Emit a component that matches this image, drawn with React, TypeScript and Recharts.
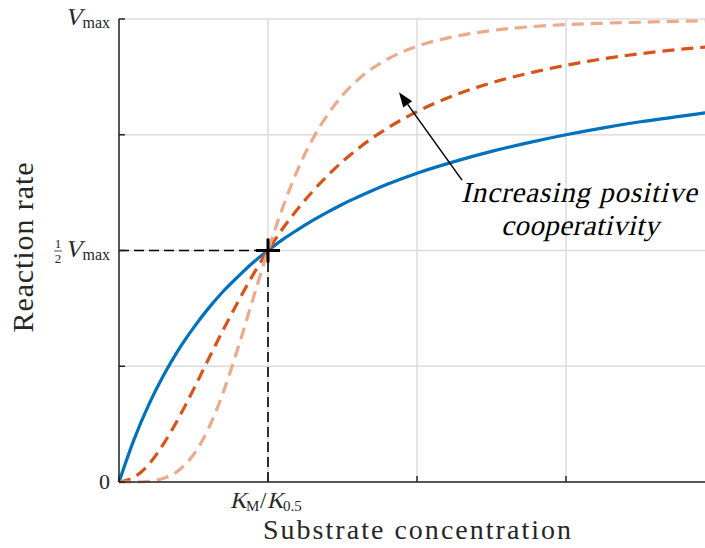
import { LineChart, Line, XAxis, YAxis, CartesianGrid, ReferenceLine, ReferenceDot, Label } from "recharts";

const FONT = "'Liberation Serif', 'Times New Roman', serif";
const INK = "#262626";

// substrate concentration, in units of K_M / K_0.5
const substrate = [0, 0.1, 0.2, 0.3, 0.4, 0.5, 0.6, 0.7, 0.8, 0.9, 1.0, 1.1, 1.2, 1.3, 1.4, 1.5, 1.6, 1.8, 2.0, 2.25, 2.5, 2.75, 3.0, 3.25, 3.5, 3.75, 4.0];
// reaction rate / Vmax
const noCoop = [0, 0.091, 0.167, 0.231, 0.286, 0.333, 0.375, 0.412, 0.444, 0.474, 0.5, 0.524, 0.545, 0.565, 0.583, 0.6, 0.615, 0.643, 0.667, 0.692, 0.714, 0.733, 0.75, 0.765, 0.778, 0.789, 0.8];
const someCoop = [0, 0.01, 0.038, 0.083, 0.138, 0.2, 0.265, 0.329, 0.39, 0.448, 0.5, 0.548, 0.59, 0.628, 0.662, 0.692, 0.719, 0.764, 0.8, 0.835, 0.862, 0.883, 0.9, 0.914, 0.925, 0.934, 0.941];
const strongCoop = [0, 0.0001, 0.0016, 0.008, 0.025, 0.059, 0.115, 0.194, 0.291, 0.396, 0.5, 0.594, 0.675, 0.741, 0.793, 0.835, 0.868, 0.913, 0.941, 0.962, 0.975, 0.983, 0.988, 0.991, 0.993, 0.995, 0.996];

const xTicks = [0, 1, 2, 3, 4];
const yTicks = [0, 0.25, 0.5, 0.75, 1];

const data = substrate.map((s, i) => ({
  s,
  n1: noCoop[i],
  n2: someCoop[i],
  n4: strongCoop[i],
}));

// slanted serif text (the italic face is not available, so skew the upright one)
const Slanted = ({ x, y, size, anchor = "start", children, ...rest }: any) => (
  <g transform={`translate(${x} ${y}) skewX(-13)`}>
    <text x={0} y={0} textAnchor={anchor} fontFamily={FONT} fontSize={size} fill={INK} {...rest}>
      {children}
    </text>
  </g>
);

const VmaxText = ({ x, y }: { x: number; y: number }) => (
  <g>
    <text x={x} y={y + 3} textAnchor="end" fontFamily={FONT} fontSize={16} fill={INK}>max</text>
    <Slanted x={x - 28} y={y} size={24} anchor="end">V</Slanted>
  </g>
);

const LeftTick = (props: any) => {
  const { x, y, payload } = props;
  const v = payload.value;
  return (
    <g>
      <line x1={x} y1={y} x2={x + 6} y2={y} stroke={INK} strokeWidth={1.5} />
      {v === 0 && (
        <text x={x - 9} y={y + 7} textAnchor="end" fontFamily={FONT} fontSize={22} fill={INK}>0</text>
      )}
      {v === 1 && <VmaxText x={x - 9} y={y + 6} />}
      {v === 0.5 && (
        <g>
          <VmaxText x={x - 9} y={y + 6} />
          <text x={x - 61} y={y - 3} textAnchor="middle" fontFamily={FONT} fontSize={13} fill={INK}>1</text>
          <line x1={x - 65} y1={y + 0.5} x2={x - 57} y2={y + 0.5} stroke={INK} strokeWidth={0.8} />
          <text x={x - 61} y={y + 12} textAnchor="middle" fontFamily={FONT} fontSize={13} fill={INK}>2</text>
        </g>
      )}
    </g>
  );
};

const BottomTick = (props: any) => {
  const { x, y, payload } = props;
  const base = y + 26;
  const left = x - 38;
  return (
    <g>
      <line x1={x} y1={y} x2={x} y2={y - 6} stroke={INK} strokeWidth={1.5} />
      {payload.value === 1 && (
        <g>
          <Slanted x={left} y={base} size={23}>K</Slanted>
          <text x={left + 16} y={base + 3} fontFamily={FONT} fontSize={15} fill={INK}>M</text>
          <text x={left + 30} y={base} fontFamily={FONT} fontSize={23} fill={INK}>/</text>
          <Slanted x={left + 37} y={base} size={23}>K</Slanted>
          <text x={left + 53} y={base + 3} fontFamily={FONT} fontSize={15} fill={INK}>0.5</text>
        </g>
      )}
    </g>
  );
};

const TopTick = (props: any) => {
  const { x, y } = props;
  return <line x1={x} y1={y} x2={x} y2={y + 6} stroke={INK} strokeWidth={1.5} />;
};

const Plus = (props: any) => {
  const { cx, cy } = props;
  return (
    <g stroke="#000" strokeWidth={3}>
      <line x1={cx - 12} y1={cy} x2={cx + 12} y2={cy} />
      <line x1={cx} y1={cy - 12} x2={cx} y2={cy + 12} />
    </g>
  );
};

const Arrow = (props: any) => {
  const { x1, y1, x2, y2 } = props;
  const ang = Math.atan2(y2 - y1, x2 - x1);
  const len = 15;
  const half = 5.5;
  const bx = x2 - len * Math.cos(ang);
  const by = y2 - len * Math.sin(ang);
  const px = -Math.sin(ang) * half;
  const py = Math.cos(ang) * half;
  return (
    <g>
      <line x1={x1} y1={y1} x2={bx} y2={by} stroke="#000" strokeWidth={1.5} />
      <polygon points={`${x2},${y2} ${bx + px},${by + py} ${bx - px},${by - py}`} fill="#000" />
      <Slanted x={x1 + 117} y={y1 + 22} size={29} anchor="middle" fill="#000" textLength={236} lengthAdjust="spacing">
        Increasing positive
      </Slanted>
      <Slanted x={x1 + 118} y={y1 + 55} size={29} anchor="middle" fill="#000" textLength={158} lengthAdjust="spacing">
        cooperativity
      </Slanted>
    </g>
  );
};

export default function App() {
  return (
    <div style={{ position: "absolute", left: 0, top: 0, width: 705, height: 548, overflow: "hidden", background: "#fff" }}>
      <LineChart width={720} height={548} data={data} margin={{ top: 19, right: 5, left: 19, bottom: 6 }}>
        <CartesianGrid stroke="#dcdcdc" strokeWidth={1.5} />
        <XAxis
          dataKey="s"
          type="number"
          domain={[0, 4]}
          ticks={xTicks}
          height={60}
          tickSize={0}
          tickMargin={0}
          axisLine={{ stroke: INK, strokeWidth: 1.5 }}
          tickLine={false}
          tick={<BottomTick />}
          interval={0}
        >
          <Label
            content={(p: any) => {
              const vb = p.viewBox;
              return (
                <text x={vb.x + vb.width / 2} y={539} textAnchor="middle" fontFamily={FONT} fontSize={28} fill={INK} textLength={308} lengthAdjust="spacing">
                  Substrate concentration
                </text>
              );
            }}
          />
        </XAxis>
        <XAxis
          xAxisId="top"
          orientation="top"
          dataKey="s"
          type="number"
          domain={[0, 4]}
          ticks={xTicks}
          height={0}
          tickSize={0}
          tickMargin={0}
          axisLine={{ stroke: INK, strokeWidth: 1.5 }}
          tickLine={false}
          tick={<TopTick />}
          interval={0}
        />
        <YAxis
          type="number"
          domain={[0, 1]}
          ticks={yTicks}
          width={100}
          tickSize={0}
          tickMargin={0}
          axisLine={{ stroke: INK, strokeWidth: 1.5 }}
          tickLine={false}
          tick={<LeftTick />}
          interval={0}
        >
          <Label
            content={(p: any) => {
              const vb = p.viewBox;
              const cy = vb.y + vb.height / 2 - 3;
              return (
                <text x={33} y={cy} transform={`rotate(-90 33 ${cy})`} textAnchor="middle" fontFamily={FONT} fontSize={30} fill={INK} textLength={170} lengthAdjust="spacing">
                  Reaction rate
                </text>
              );
            }}
          />
        </YAxis>
        <ReferenceLine segment={[{ x: 0, y: 0.5 }, { x: 1, y: 0.5 }]} stroke="#000" strokeWidth={1.6} strokeDasharray="10 5" />
        <ReferenceLine segment={[{ x: 1, y: 0 }, { x: 1, y: 0.5 }]} stroke="#000" strokeWidth={1.6} strokeDasharray="10 5" />
        <Line type="monotone" dataKey="n1" stroke="#0072BD" strokeWidth={3.2} dot={false} isAnimationActive={false} />
        <Line type="monotone" dataKey="n2" stroke="#D95319" strokeWidth={3.2} strokeDasharray="12 7" dot={false} isAnimationActive={false} />
        <Line type="monotone" dataKey="n4" stroke="#ECA98C" strokeWidth={3.2} strokeDasharray="12 7" dot={false} isAnimationActive={false} />
        <ReferenceDot x={1} y={0.5} r={0} shape={<Plus />} />
        <ReferenceLine segment={[{ x: 2.302, y: 0.652 }, { x: 1.879, y: 0.842 }]} shape={<Arrow />} />
      </LineChart>
    </div>
  );
}
